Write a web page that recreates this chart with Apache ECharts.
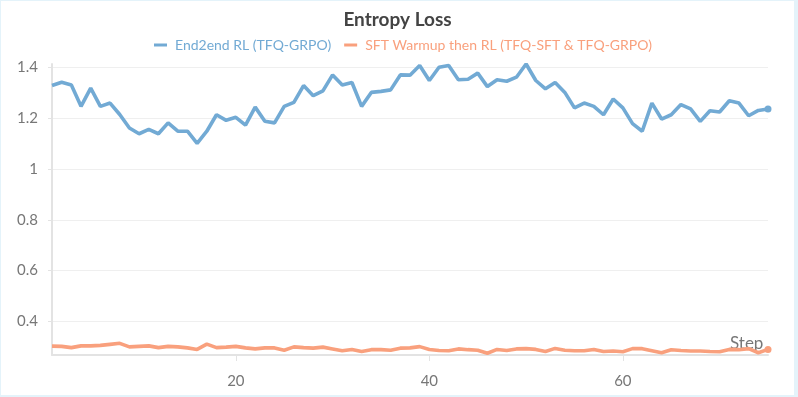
<!DOCTYPE html>
<html>
<head>
<meta charset="utf-8">
<script src="https://cdn.jsdelivr.net/npm/echarts@6/dist/echarts.min.js"></script>
<style>
  html, body { margin: 0; padding: 0; background: #fff; }
  #main {
    width: 798px; height: 397px; box-sizing: border-box;
    border-style: solid; border-color: #e4f3fa;
    border-width: 1px 4px 2px 1px;
  }
</style>
</head>
<body>
<div id="main"></div>
<script>
// steps 1..75
const steps = Array.from({ length: 75 }, (_, i) => i + 1);
const xTicks = [20, 40, 60];
const yTicks = [0.4, 0.6, 0.8, 1, 1.2, 1.4];

const end2endRL = [
  1.329, 1.342, 1.331, 1.247, 1.319, 1.247, 1.260, 1.215, 1.162, 1.139,
  1.156, 1.139, 1.182, 1.149, 1.149, 1.101, 1.149, 1.214, 1.192, 1.204,
  1.173, 1.244, 1.188, 1.182, 1.247, 1.263, 1.329, 1.289, 1.308, 1.371,
  1.331, 1.341, 1.247, 1.302, 1.306, 1.312, 1.371, 1.370, 1.408, 1.349,
  1.401, 1.408, 1.352, 1.354, 1.378, 1.325, 1.352, 1.346, 1.362, 1.414,
  1.349, 1.316, 1.341, 1.302, 1.241, 1.260, 1.247, 1.214, 1.276, 1.241,
  1.179, 1.149, 1.260, 1.197, 1.214, 1.254, 1.237, 1.188, 1.230, 1.225,
  1.269, 1.260, 1.210, 1.231, 1.237
];

const sftThenRL = [
  0.302, 0.301, 0.296, 0.303, 0.303, 0.305, 0.309, 0.313, 0.299, 0.301,
  0.303, 0.296, 0.301, 0.299, 0.295, 0.289, 0.310, 0.296, 0.298, 0.301,
  0.295, 0.291, 0.295, 0.295, 0.286, 0.299, 0.296, 0.294, 0.298, 0.291,
  0.284, 0.289, 0.281, 0.288, 0.288, 0.286, 0.294, 0.295, 0.300, 0.289,
  0.285, 0.284, 0.291, 0.288, 0.286, 0.274, 0.289, 0.285, 0.291, 0.292,
  0.289, 0.281, 0.293, 0.286, 0.284, 0.284, 0.289, 0.281, 0.283, 0.280,
  0.292, 0.292, 0.284, 0.276, 0.288, 0.285, 0.283, 0.283, 0.281, 0.280,
  0.289, 0.288, 0.292, 0.276, 0.289
];

const seriesNames = ['End2end RL (TFQ-GRPO)', 'SFT Warmup then RL (TFQ-SFT & TFQ-GRPO)'];
const seriesColors = ['#72aad4', '#f9a07d'];

const chart = echarts.init(document.getElementById('main'), null, { renderer: 'canvas' });
const font = 'Lato, "Open Sans", sans-serif';
const lastIdx = steps.length - 1;

function makeSeries(name, color, values) {
  return {
    name: name,
    type: 'line',
    data: steps.map((s, i) => [s, values[i]]),
    showSymbol: true,
    symbol: 'circle',
    symbolSize: (v, p) => (p.dataIndex === lastIdx ? 7 : 0),
    lineStyle: { width: 3.6, color: color },
    itemStyle: { color: color },
    emphasis: { disabled: true }
  };
}

chart.setOption({
  animation: false,
  textStyle: { fontFamily: font },
  title: {
    text: 'Entropy Loss',
    left: 'center',
    top: 4,
    textStyle: { fontSize: 19, fontWeight: 'bold', color: '#444', fontFamily: font }
  },
  legend: {
    top: 32,
    left: 148,
    icon: 'rect',
    itemWidth: 13,
    itemHeight: 3,
    itemGap: 13,
    data: seriesNames.map((n, i) => ({ name: n, textStyle: { color: seriesColors[i] } })),
    textStyle: { fontSize: 14, fontFamily: font, padding: [0, 0, 0, 3] }
  },
  grid: { left: 51, right: 26, top: 63, bottom: 40, outerBoundsMode: 'none' },
  xAxis: {
    type: 'value',
    min: 1,
    max: 75,
    name: 'Step',
    nameLocation: 'end',
    nameGap: -38,
    nameTextStyle: { color: '#777', fontSize: 17, verticalAlign: 'bottom', padding: [0, 0, 3, 0] },
    axisLine: { lineStyle: { color: '#e3e3e3', width: 2 } },
    axisTick: { show: true, length: 6, customValues: xTicks, lineStyle: { color: '#e3e3e3' } },
    axisLabel: { color: '#777', fontSize: 15, margin: 19, customValues: xTicks },
    splitLine: { show: false }
  },
  yAxis: {
    type: 'value',
    min: 0.267,
    max: 1.414,
    axisLine: { show: true, lineStyle: { color: '#e3e3e3', width: 2 } },
    axisTick: { show: true, length: 4, customValues: yTicks, lineStyle: { color: '#e3e3e3' } },
    axisLabel: { color: '#777', fontSize: 15, margin: 14, customValues: yTicks },
    splitLine: { lineStyle: { color: '#efefef', width: 1 } }
  },
  series: [
    makeSeries(seriesNames[0], seriesColors[0], end2endRL),
    makeSeries(seriesNames[1], seriesColors[1], sftThenRL)
  ]
});
</script>
</body>
</html>
